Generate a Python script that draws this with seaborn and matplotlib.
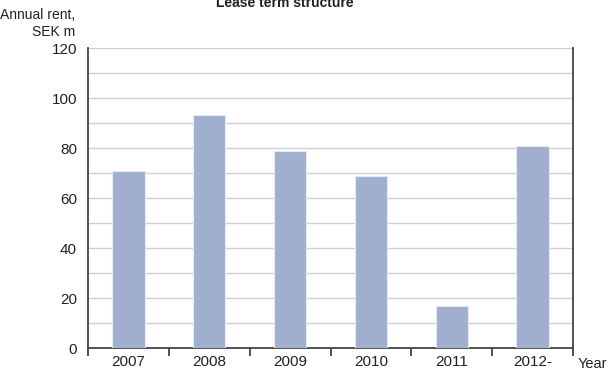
import matplotlib
matplotlib.use("Agg")
import matplotlib.pyplot as plt
from matplotlib.ticker import MultipleLocator, FixedLocator
import seaborn as sns
import pandas as pd

years = ["2007", "2008", "2009", "2010", "2011", "2012-"]
rent = [71, 93.5, 79, 69, 17, 81]

sns.set_style("white")
plt.rcParams["font.family"] = ["Liberation Sans", "DejaVu Sans"]

df = pd.DataFrame({"year": years, "rent": rent})

fig = plt.figure(figsize=(6.09, 3.74), dpi=100)
ax = fig.add_axes([88 / 609, 1 - 348.3 / 374, (573 - 88) / 609, 300 / 374])

sns.barplot(data=df, x="year", y="rent", ax=ax, color="#a0afce",
            saturation=1, width=0.4, edgecolor="#e4e9f3", linewidth=0.8,
            zorder=3)

ax.set_ylim(0, 120)
ax.set_xlim(-0.5, len(years) - 0.5)
ax.yaxis.set_major_locator(MultipleLocator(20))
ax.yaxis.set_minor_locator(MultipleLocator(10))
ax.yaxis.grid(True, which="both", color="#d0d0d0", linewidth=1.0, zorder=0)
ax.set_axisbelow(True)

# category boundaries carry the x tick marks, labels sit centred under bars
ax.xaxis.set_minor_locator(FixedLocator([i - 0.5 for i in range(len(years) + 1)]))
ax.tick_params(axis="x", which="minor", direction="out", length=6, width=1.2,
               color="#333333", bottom=True)
ax.tick_params(axis="x", which="major", length=0, labelsize=11, pad=5,
               colors="#222222")
ax.tick_params(axis="y", which="both", length=0, labelsize=11, pad=8,
               colors="#222222")

for side in ["left", "bottom", "right"]:
    ax.spines[side].set_visible(True)
    ax.spines[side].set_color("#444444")
    ax.spines[side].set_linewidth(1.3)
ax.spines["top"].set_visible(False)

ax.set_xlabel("")
ax.set_ylabel("")

fig.text(75 / 609, 1 - 8 / 374, "Annual rent,\nSEK m", ha="right", va="top",
         fontsize=10, color="#222222", linespacing=1.3)
fig.text(578 / 609, 1 - 364 / 374, "Year", ha="left", va="center",
         fontsize=10.5, color="#222222")
fig.text(285 / 609, 1 - 7 / 374, "Lease term structure", ha="center",
         va="baseline", fontsize=10, fontweight="bold", color="#222222")

fig.savefig("out.png", dpi=100)
